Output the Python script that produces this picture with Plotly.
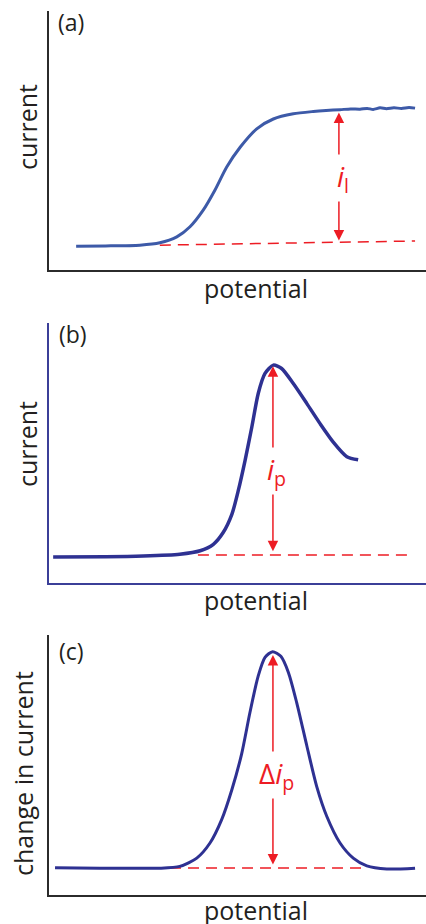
import plotly.graph_objects as go

# ---------------- data (arbitrary units: potential 0-100, current 0-100) -------------
pot_a = [7.2, 15.0, 24.1, 29.4, 33.9, 37.4, 40.9, 44.0, 47.1, 50.7, 55.1, 59.5, 64.8,
         70.1, 73.5, 77.2, 80.0, 82.5, 84.4, 86.0, 87.8, 89.5, 91.5, 93.5, 95.5, 97.1]
cur_a = [9.2, 9.3, 9.6, 10.5, 12.8, 16.7, 23.1, 30.8, 39.7, 47.4, 54.5, 58.3, 60.3,
         61.2, 61.6, 61.9, 62.2, 62.1, 62.4, 62.0, 62.6, 62.3, 62.6, 62.4, 62.7, 62.5]
base_a_x = [29.4, 97.1]
base_a_y = [9.6, 11.2]
arrow_a_x = 76.9
arrow_a_y = [10.8, 60.8]
label_a_y = 35.4

pot_b = [1.1, 15.0, 25.0, 34.7, 40.1, 43.6, 46.2, 48.5, 50.2, 52.0, 53.8, 55.5, 57.3,
         59.5, 61.7, 64.8, 68.4, 71.9, 75.4, 79.0, 82.0]
cur_b = [10.0, 10.1, 10.4, 11.1, 12.4, 14.9, 19.4, 26.4, 35.5, 47.1, 60.0, 72.9, 80.6,
         83.8, 82.5, 76.7, 69.0, 61.3, 54.2, 48.6, 47.4]
base_b_x = [39.5, 96.3]
base_b_y = [10.8, 10.8]
arrow_b_x = 59.4
arrow_b_y = [11.6, 83.4]
label_b_y = 43.2

pot_c = [1.6, 13.5, 22.0, 29.4, 34.7, 39.2, 42.7, 45.8, 48.5, 51.1, 53.3, 55.5, 57.3,
         59.3, 61.5, 63.5, 65.7, 68.4, 71.0, 73.7, 77.2, 80.7, 84.3, 89.6, 97.1]
cur_c = [10.5, 10.3, 10.3, 10.3, 11.0, 14.2, 20.0, 29.0, 40.5, 54.3, 70.2, 84.3, 91.4,
         93.6, 91.8, 85.6, 74.0, 57.3, 41.8, 30.2, 20.0, 14.2, 11.2, 10.0, 10.3]
base_c_x = [32.1, 84.4]
base_c_y = [10.4, 10.4]
arrow_c_x = 59.4
arrow_c_y = [11.2, 92.3]
label_c_y = 46.3

panel_labels = ["(a)", "(b)", "(c)"]
x_titles = ["potential", "potential", "potential"]
y_titles = ["current", "current", "change in current"]

# ---------------- styling ----------------
RED = "#ed1c24"
BLUE_A = "#3d5aa8"
NAVY = "#2e3192"
TEXT = "#231f20"
FONT = "Open Sans"
W, H = 426, 924

fig = go.Figure()

panels = [
    dict(px=pot_a, py=cur_a, bx=base_a_x, by=base_a_y, ax=arrow_a_x, ay=arrow_a_y,
         ly=label_a_y, label="<i>i</i><sub>l</sub>", color=BLUE_A, axcol="#2b2b2b",
         dom=[1 - 270 / H, 1 - 11 / H], lw=3, sm=0.7),
    dict(px=pot_b, py=cur_b, bx=base_b_x, by=base_b_y, ax=arrow_b_x, ay=arrow_b_y,
         ly=label_b_y, label="<i>i</i><sub>p</sub>", color=NAVY, axcol="#3b3f98",
         dom=[1 - 583 / H, 1 - 323 / H], lw=3.5, sm=0.7),
    dict(px=pot_c, py=cur_c, bx=base_c_x, by=base_c_y, ax=arrow_c_x, ay=arrow_c_y,
         ly=label_c_y, label="Δ<i>i</i><sub>p</sub>", color=NAVY, axcol="#2b2b2b",
         dom=[1 - 895 / H, 1 - 635 / H], lw=3, sm=0.7),
]

annotations = []
# pixel positions for text (layout only)
xtitle_y = [288, 600, 910]
ytitle_pos = [(27, 127), (27, 444), (23, 774)]
plabel_pos = [(71, 22), (73, 334), (71, 651)]

for i, p in enumerate(panels):
    n = "" if i == 0 else str(i + 1)
    xa, ya = "x" + n, "y" + n
    fig.add_trace(go.Scatter(x=p["bx"], y=p["by"], mode="lines",
                             line=dict(color=RED, width=1.5, dash="11px,7px"),
                             xaxis=xa, yaxis=ya, showlegend=False, hoverinfo="skip"))
    fig.add_trace(go.Scatter(x=p["px"], y=p["py"], mode="lines",
                             line=dict(color=p["color"], width=p["lw"], shape="spline",
                                       smoothing=p["sm"]),
                             xaxis=xa, yaxis=ya, showlegend=False))
    axcommon = dict(showline=True, linewidth=2, linecolor=p["axcol"], showgrid=False,
                    zeroline=False, showticklabels=False, ticks="", fixedrange=True)
    fig.update_layout(**{
        ("xaxis" + n): dict(domain=[49 / W, 1.0], range=[0, 100], anchor=ya, **axcommon),
        ("yaxis" + n): dict(domain=p["dom"], range=[0, 100], anchor=xa, **axcommon),
    })
    # double-headed arrow
    annotations.append(dict(x=p["ax"], y=p["ay"][1], ax=p["ax"], ay=p["ay"][0],
                            xref=xa, yref=ya, axref=xa, ayref=ya, text="",
                            showarrow=True, arrowhead=2, startarrowhead=2,
                            arrowside="end+start", arrowsize=1.4, startarrowsize=1.4,
                            arrowwidth=1.5, arrowcolor=RED))
    # label on arrow
    annotations.append(dict(x=p["ax"], y=p["ly"], xref=xa, yref=ya, text=p["label"],
                            showarrow=False, bgcolor="white", borderpad=2, xshift=4,
                            font=dict(family=FONT, size=28, color=RED)))
    # x title
    annotations.append(dict(x=256 / W, y=1 - xtitle_y[i] / H, xref="paper", yref="paper",
                            text=x_titles[i], showarrow=False, xanchor="center", yanchor="middle",
                            font=dict(family=FONT, size=25, color=TEXT)))
    # y title
    annotations.append(dict(x=ytitle_pos[i][0] / W, y=1 - ytitle_pos[i][1] / H,
                            xref="paper", yref="paper", text=y_titles[i], textangle=-90,
                            showarrow=False, xanchor="center", yanchor="middle",
                            font=dict(family=FONT, size=25, color=TEXT)))
    # panel label
    annotations.append(dict(x=plabel_pos[i][0] / W, y=1 - plabel_pos[i][1] / H,
                            xref="paper", yref="paper", text=panel_labels[i],
                            showarrow=False, xanchor="center", yanchor="middle",
                            font=dict(family=FONT, size=23, color=TEXT)))

fig.update_layout(width=W, height=H, margin=dict(l=0, r=0, t=0, b=0),
                  paper_bgcolor="white", plot_bgcolor="white",
                  annotations=annotations, showlegend=False)

fig.write_html("out.html", config={"displayModeBar": False},
               post_script="document.body.style.margin='0px';document.body.style.overflow='hidden';")
